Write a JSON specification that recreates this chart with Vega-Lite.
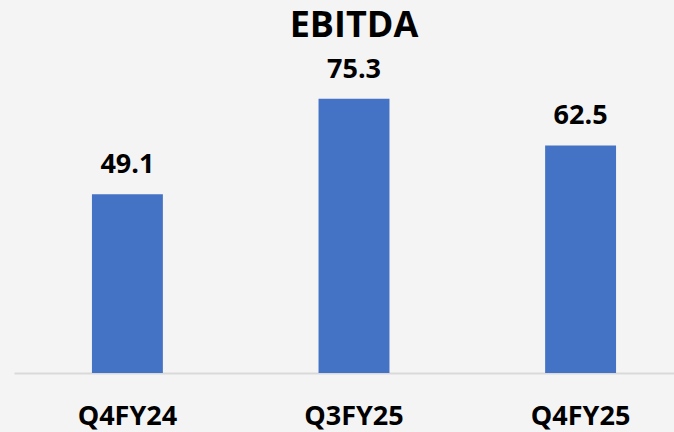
{
  "$schema": "https://vega.github.io/schema/vega-lite/v6.json",
  "autosize": {"type": "none"},
  "padding": {"left": 14, "top": 50, "right": 0, "bottom": 59},
  "width": 680,
  "height": 323,
  "background": "#f4f4f4",
  "title": {
    "text": "EBITDA",
    "font": "Open Sans",
    "fontSize": 36,
    "fontWeight": "bold",
    "color": "#000000",
    "anchor": "middle",
    "baseline": "alphabetic",
    "offset": -23
  },
  "data": {
    "values": [
      {"quarter": "Q4FY24", "ebitda": 49.1},
      {"quarter": "Q3FY25", "ebitda": 75.3},
      {"quarter": "Q4FY25", "ebitda": 62.5}
    ]
  },
  "encoding": {
    "x": {
      "field": "quarter",
      "type": "nominal",
      "sort": null,
      "scale": {"paddingInner": 0.687, "paddingOuter": 0.344},
      "axis": {
        "title": null,
        "labelAngle": 0,
        "labelFont": "Open Sans",
        "labelFontSize": 27,
        "labelFontWeight": "bold",
        "labelColor": "#000000",
        "labelBaseline": "alphabetic",
        "labelPadding": 51,
        "ticks": false,
        "tickSize": 0,
        "domainColor": "#d9d9d9",
        "domainWidth": 2,
        "grid": false
      }
    },
    "y": {
      "field": "ebitda",
      "type": "quantitative",
      "scale": {"domain": [0, 88.7], "nice": false},
      "axis": null
    }
  },
  "layer": [
    {"mark": {"type": "bar", "color": "#4472C4"}},
    {
      "mark": {
        "type": "text",
        "font": "Open Sans",
        "fontSize": 27,
        "fontWeight": "bold",
        "color": "#000000",
        "baseline": "alphabetic",
        "dy": -21
      },
      "encoding": {"text": {"field": "ebitda", "type": "quantitative", "format": ".1f"}}
    }
  ],
  "config": {"view": {"stroke": null}}
}
